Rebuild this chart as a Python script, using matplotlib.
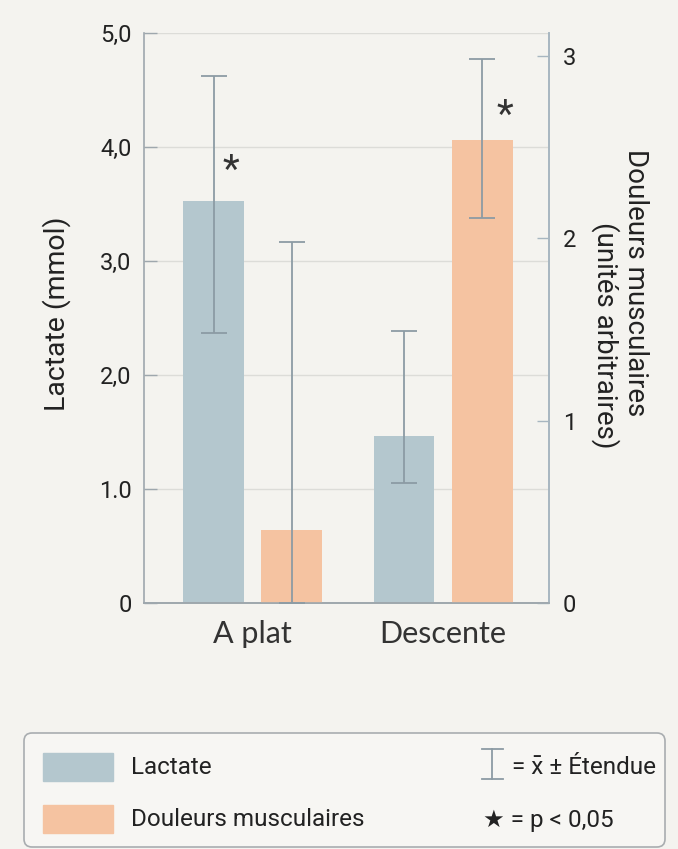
import numpy as np
import matplotlib.pyplot as plt
from matplotlib.patches import FancyBboxPatch, Rectangle

groups = ['A plat', 'Descente']
lactate = [3.53, 1.47]
lactate_low = [2.37, 1.06]
lactate_high = [4.62, 2.39]
douleurs = [0.40, 2.54]
douleurs_low = [0.0, 2.11]
douleurs_high = [1.98, 2.98]
significatif = [(0, 'lactate'), (1, 'douleurs')]

bg = '#f4f3ef'
c_lac = '#b4c7ce'
c_dou = '#f5c3a1'
c_err = '#8c9ba4'
c_spine = '#9ea7ad'

plt.rcParams['font.family'] = ['Roboto', 'DejaVu Sans']

fig = plt.figure(figsize=(6.78, 8.49), dpi=100, facecolor=bg)
ax = fig.add_axes([0.2124, 0.2892, 0.5973, 0.6719])
ax.set_facecolor(bg)
ax2 = ax.twinx()

x = np.arange(len(groups))
w = 0.32
off = 0.205

ax.bar(x - off, lactate, w, color=c_lac, zorder=2)
ax.errorbar(x - off, lactate,
            yerr=[np.array(lactate) - lactate_low, np.array(lactate_high) - lactate],
            fmt='none', ecolor=c_err, elinewidth=1.3, capsize=9.5, capthick=1.3, zorder=3)
ax2.bar(x + off, douleurs, w, color=c_dou, zorder=2)
ax2.errorbar(x + off, douleurs,
             yerr=[np.array(douleurs) - douleurs_low, np.array(douleurs_high) - douleurs],
             fmt='none', ecolor=c_err, elinewidth=1.3, capsize=9.5, capthick=1.3, zorder=3)

ax.set_xlim(-0.57, 1.556)
ax.set_ylim(0, 5)
ax2.set_ylim(0, 3.125)

ax.set_yticks([0, 1, 2, 3, 4, 5])
ax.set_yticklabels(['0', '1.0', '2,0', '3,0', '4,0', '5,0'])
ax2.set_yticks([0, 1, 2, 3])
ax2.set_yticklabels(['0', '1', '2', '3'])
ax.set_xticks(x)
ax.set_xticklabels(groups, family='Lato', fontsize=22, color='#333333')
ax.tick_params(axis='x', length=0, pad=12)
ax.tick_params(axis='y', direction='in', length=9, width=1, color=c_spine,
               labelsize=17, labelcolor='#222222', pad=9)
ax2.tick_params(axis='y', direction='in', length=9, width=1, color='#a7b6c0',
                labelsize=17, labelcolor='#222222', pad=10)

ax.yaxis.grid(True, color='#dcdcd8', linewidth=1)
ax.set_axisbelow(True)
for a in (ax, ax2):
    a.spines['top'].set_visible(False)
    a.spines['left'].set_color(c_spine)
    a.spines['bottom'].set_color(c_spine)
    a.spines['right'].set_color('#a7b6c0')
    for s in a.spines.values():
        s.set_linewidth(1.2)
ax2.spines['left'].set_visible(False)
ax2.patch.set_visible(False)

ax.set_ylabel('Lactate (mmol)', fontsize=20.5, color='#222222')
ax.yaxis.set_label_coords(-0.18, 0.508)

# titre de l'axe droit sur deux lignes décalées
fig.text(636 / 678, 1 - 283 / 849, 'Douleurs musculaires', rotation=-90,
         fontsize=20, color='#222222', ha='center', va='center')
fig.text(605 / 678, 1 - 335 / 849, '(unités arbitraires)', rotation=-90,
         fontsize=20, color='#222222', ha='center', va='center')

# astérisques de significativité
for i, serie in significatif:
    if serie == 'lactate':
        ax.text(i - off + 0.09, lactate[i] + 0.26, '*', ha='center', va='center',
                fontsize=28, color='#333333')
    else:
        ax2.text(i + off + 0.12, douleurs[i] + 0.13, '*', ha='center', va='center',
                 fontsize=28, color='#333333')

# cadre de légende
lg = fig.add_axes([0, 0, 1, 1], facecolor='none')
lg.set_xlim(0, 678)
lg.set_ylim(849, 0)
lg.axis('off')
lg.add_patch(FancyBboxPatch((24, 733), 641, 114, boxstyle='round,pad=0,rounding_size=8',
                            facecolor='#f7f6f3', edgecolor='#a9adb0', linewidth=1.2))
lg.add_patch(Rectangle((43, 753), 70, 28, color=c_lac))
lg.add_patch(Rectangle((43, 805), 70, 28, color=c_dou))
lg.text(131, 768, 'Lactate', fontsize=17.5, va='center', color='#222222')
lg.text(131, 820, 'Douleurs musculaires', fontsize=17.5, va='center', color='#222222')
lg.plot([492, 492], [749, 779], color=c_err, lw=1.3)
lg.plot([482, 503], [749, 749], color=c_err, lw=1.3)
lg.plot([482, 503], [779, 779], color=c_err, lw=1.3)
lg.text(512, 768, '= x\u0304 ± Étendue', fontsize=17.5, va='center', color='#222222')
lg.text(483, 820, '★ = p < 0,05', fontsize=17.5, va='center', color='#222222')

fig.savefig('out.png', dpi=100, facecolor=bg)
